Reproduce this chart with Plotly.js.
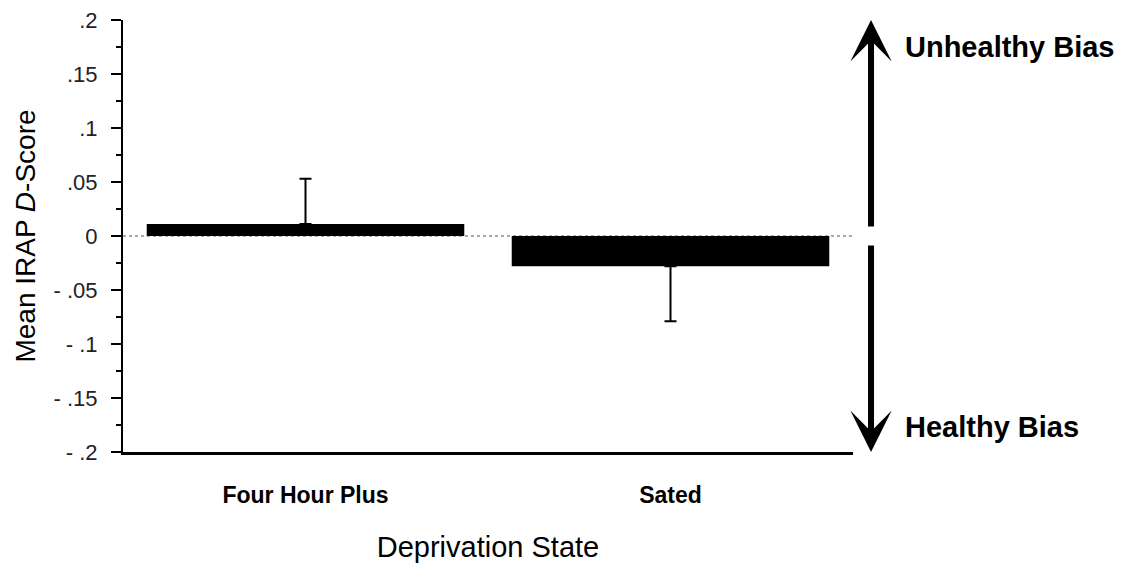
<!DOCTYPE html>
<html>
<head>
<meta charset="utf-8">
<script src="https://cdn.plot.ly/plotly-3.0.1.min.js"></script>
<style>html,body{margin:0;padding:0;background:#fff;}#chart{width:1133px;height:563px;}</style>
</head>
<body>
<div id="chart"></div>
<script>
// Data
const categories = ["Four Hour Plus", "Sated"];
const meanDScore = [0.011, -0.028];
const errorUp = [0.042, 0];
const errorDown = [0, 0.051];
const yTickVals = [0.2, 0.15, 0.1, 0.05, 0, -0.05, -0.1, -0.15, -0.2];
const yTickText = [".2", ".15", ".1", ".05", "0", "- .05", "- .1", "- .15", "- .2"];
const biasLabels = ["Unhealthy Bias", "Healthy Bias"];

const FONT = "Liberation Sans, Arial, sans-serif";

const trace = {
  type: "bar",
  x: categories,
  y: meanDScore,
  width: 0.87,
  marker: {color: "#000", line: {width: 0}},
  error_y: {
    type: "data",
    symmetric: false,
    array: errorUp,
    arrayminus: errorDown,
    color: "#000",
    thickness: 2,
    width: 6
  },
  hoverinfo: "skip"
};

const layout = {
  width: 1133,
  height: 563,
  margin: {l: 123, r: 280, t: 20, b: 111, pad: 0},
  paper_bgcolor: "#fff",
  plot_bgcolor: "#fff",
  showlegend: false,
  font: {family: FONT, color: "#000"},
  xaxis: {
    range: [-0.5, 1.5],
    showline: true,
    linecolor: "#000",
    linewidth: 3,
    ticks: "",
    showgrid: false,
    zeroline: false,
    ticklabelstandoff: 20,
    tickfont: {family: FONT, size: 23, color: "#000", weight: "bold"},
    title: {text: "Deprivation State", font: {family: FONT, size: 29, color: "#000"}, standoff: 38},
    automargin: false
  },
  yaxis: {
    range: [-0.2, 0.2],
    showline: true,
    linecolor: "#000",
    linewidth: 2,
    ticks: "outside",
    ticklen: 10,
    tickwidth: 2,
    tickcolor: "#000",
    tickvals: yTickVals,
    ticktext: yTickText,
    ticklabelstandoff: 9,
    minor: {dtick: 0.025, tick0: 0, ticks: "outside", ticklen: 5, tickwidth: 2, tickcolor: "#000", showgrid: false},
    showgrid: false,
    zeroline: false,
    tickfont: {family: FONT, size: 22, color: "#222"},
    title: {text: "Mean IRAP <i>D</i>-Score", font: {family: FONT, size: 28, color: "#000"}, standoff: 10},
    automargin: false
  },
  shapes: [
    {type: "line", xref: "paper", yref: "y", x0: 0, x1: 1, y0: 0, y1: 0,
     line: {color: "#555", width: 1, dash: "dot"}, layer: "below"}
  ],
  annotations: [
    {xref: "paper", yref: "y", x: 1.0247, y: 0.2, axref: "pixel", ayref: "y", ax: 0, ay: 0.0075,
     text: "", showarrow: true, arrowhead: 3, arrowsize: 1.15, arrowwidth: 6, arrowcolor: "#000"},
    {xref: "paper", yref: "y", x: 1.0247, y: -0.2, axref: "pixel", ayref: "y", ax: 0, ay: -0.0075,
     text: "", showarrow: true, arrowhead: 3, arrowsize: 1.15, arrowwidth: 6, arrowcolor: "#000"},
    {xref: "paper", yref: "y", x: 1.0685, y: 0.175, xanchor: "left", yanchor: "middle",
     text: "<b>" + biasLabels[0] + "</b>", showarrow: false, font: {family: FONT, size: 29, color: "#000"}},
    {xref: "paper", yref: "y", x: 1.0685, y: -0.177, xanchor: "left", yanchor: "middle",
     text: "<b>" + biasLabels[1] + "</b>", showarrow: false, font: {family: FONT, size: 29, color: "#000"}}
  ]
};

Plotly.newPlot("chart", [trace], layout, {displayModeBar: false, staticPlot: true});
</script>
</body>
</html>
